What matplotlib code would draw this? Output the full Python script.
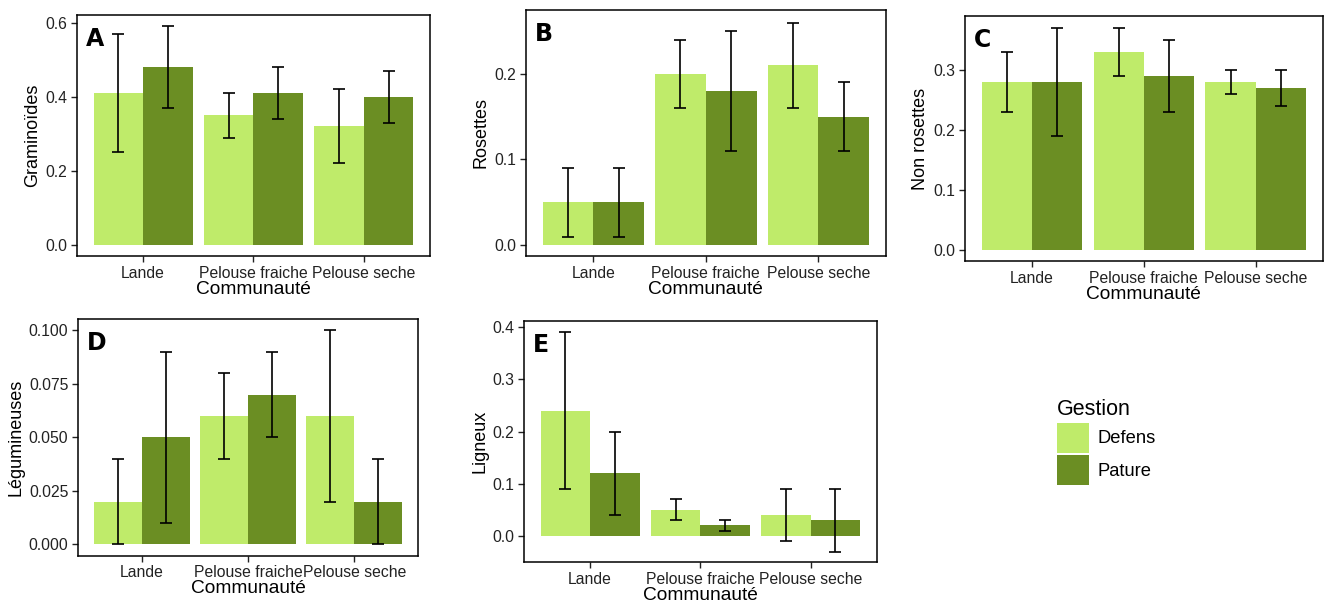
import matplotlib
matplotlib.use("Agg")
import matplotlib.pyplot as plt
from matplotlib.patches import Patch
import numpy as np

plt.rcParams['font.family'] = ['Liberation Sans', 'DejaVu Sans']

communautes = ["Lande", "Pelouse fraiche", "Pelouse seche"]
gestions = ["Defens", "Pature"]
couleurs = ["#BFEB6A", "#6B8E23"]

# moyennes et intervalles (bas, haut) : [defens, pature] par communaute
gram_defens = [0.41, 0.35, 0.32]
gram_pature = [0.48, 0.41, 0.40]
gram_defens_lo = [0.25, 0.29, 0.22]
gram_defens_hi = [0.57, 0.41, 0.42]
gram_pature_lo = [0.37, 0.34, 0.33]
gram_pature_hi = [0.59, 0.48, 0.47]

ros_defens = [0.05, 0.20, 0.21]
ros_pature = [0.05, 0.18, 0.15]
ros_defens_lo = [0.01, 0.16, 0.16]
ros_defens_hi = [0.09, 0.24, 0.26]
ros_pature_lo = [0.01, 0.11, 0.11]
ros_pature_hi = [0.09, 0.25, 0.19]

nros_defens = [0.28, 0.33, 0.28]
nros_pature = [0.28, 0.29, 0.27]
nros_defens_lo = [0.23, 0.29, 0.26]
nros_defens_hi = [0.33, 0.37, 0.30]
nros_pature_lo = [0.19, 0.23, 0.24]
nros_pature_hi = [0.37, 0.35, 0.30]

leg_defens = [0.02, 0.06, 0.06]
leg_pature = [0.05, 0.07, 0.02]
leg_defens_lo = [0.00, 0.04, 0.02]
leg_defens_hi = [0.04, 0.08, 0.10]
leg_pature_lo = [0.01, 0.05, 0.00]
leg_pature_hi = [0.09, 0.09, 0.04]

lig_defens = [0.24, 0.05, 0.04]
lig_pature = [0.12, 0.02, 0.03]
lig_defens_lo = [0.09, 0.03, -0.01]
lig_defens_hi = [0.39, 0.07, 0.09]
lig_pature_lo = [0.04, 0.01, -0.03]
lig_pature_hi = [0.20, 0.03, 0.09]

fig = plt.figure(figsize=(13.25, 6.08), dpi=100)


def panel(rect, lettre, ylabel, moy, lo, hi, ylim, yticks, fmt):
    ax = fig.add_axes(rect)
    x = np.arange(len(communautes))
    w = 0.45
    for i in range(2):
        pos = x + (i - 0.5) * w
        m = np.array(moy[i])
        ax.bar(pos, m, width=w, color=couleurs[i], linewidth=0, zorder=1)
        ax.errorbar(pos, m, yerr=[m - np.array(lo[i]), np.array(hi[i]) - m],
                    fmt='none', ecolor='black', elinewidth=1.2, capsize=4.5,
                    capthick=1.2, zorder=2)
    ax.set_xlim(-0.6, 2.6)
    ax.set_ylim(*ylim)
    ax.set_yticks(yticks)
    ax.set_yticklabels([fmt.format(v) for v in yticks])
    ax.set_xticks(x)
    ax.set_xticklabels(communautes)
    ax.tick_params(axis='both', labelsize=11.3, length=4, width=1,
                   colors='#222222', labelcolor='#222222', pad=3)
    ax.set_xlabel("Communauté", fontsize=13.8, labelpad=0)
    ax.set_ylabel(ylabel, fontsize=13, labelpad=3)
    for s in ax.spines.values():
        s.set_linewidth(1.1)
    ax.text(0.025, 0.95, lettre, transform=ax.transAxes, fontsize=17,
            fontweight='bold', va='top', ha='left', family='DejaVu Sans')
    return ax


panel([0.0581, 0.5789, 0.2664, 0.3964], "A", "Graminoïdes",
      [gram_defens, gram_pature], [gram_defens_lo, gram_pature_lo],
      [gram_defens_hi, gram_pature_hi], (-0.03, 0.621), [0.0, 0.2, 0.4, 0.6], "{:.1f}")
panel([0.3967, 0.5789, 0.2720, 0.4047], "B", "Rosettes",
      [ros_defens, ros_pature], [ros_defens_lo, ros_pature_lo],
      [ros_defens_hi, ros_pature_hi], (-0.0128, 0.2747), [0.0, 0.1, 0.2], "{:.1f}")
panel([0.7283, 0.5707, 0.2700, 0.4030], "C", "Non rosettes",
      [nros_defens, nros_pature], [nros_defens_lo, nros_pature_lo],
      [nros_defens_hi, nros_pature_hi], (-0.018, 0.39), [0.0, 0.1, 0.2, 0.3], "{:.1f}")
panel([0.0589, 0.0860, 0.2566, 0.3893], "D", "Légumineuses",
      [leg_defens, leg_pature], [leg_defens_lo, leg_pature_lo],
      [leg_defens_hi, leg_pature_hi], (-0.0053, 0.1053),
      [0.0, 0.025, 0.05, 0.075, 0.1], "{:.3f}")
panel([0.3955, 0.0757, 0.2662, 0.3963], "E", "Ligneux",
      [lig_defens, lig_pature], [lig_defens_lo, lig_pature_lo],
      [lig_defens_hi, lig_pature_hi], (-0.05, 0.412), [0.0, 0.1, 0.2, 0.3, 0.4], "{:.1f}")

handles = [Patch(facecolor=c, edgecolor='none') for c in couleurs]
leg = fig.legend(handles, gestions, title="Gestion", loc='upper left',
                 bbox_to_anchor=(0.798, 0.343), frameon=False, fontsize=13.2,
                 title_fontsize=15.5, handlelength=1.75, handleheight=2.15,
                 handletextpad=0.45, labelspacing=0.12, alignment='left',
                 borderaxespad=0, borderpad=0)

fig.savefig("out.png", dpi=100)
